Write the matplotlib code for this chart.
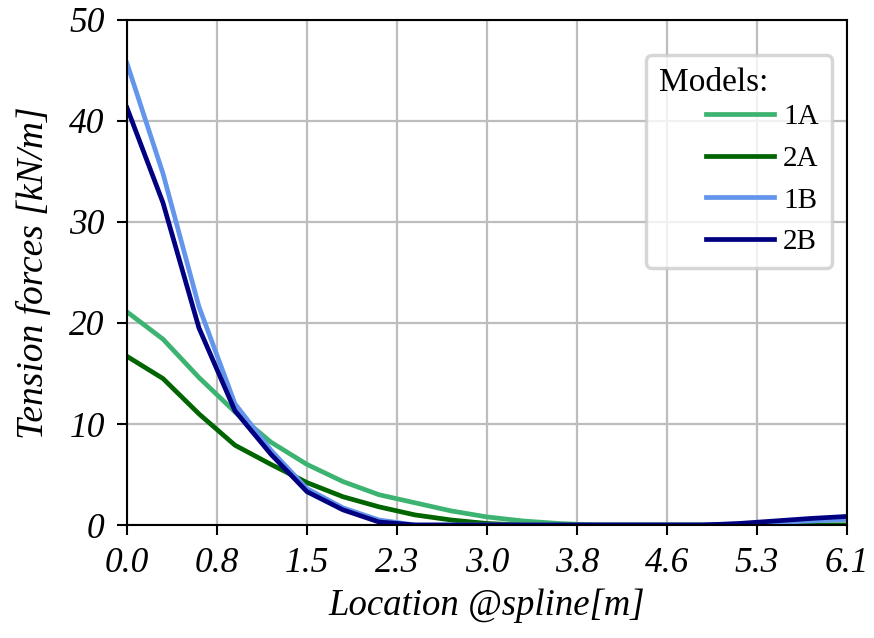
import numpy as np
import matplotlib
matplotlib.use("Agg")
import matplotlib.pyplot as plt

# -*- data
loc_m = [0.0, 0.305, 0.61, 0.915, 1.22, 1.525, 1.83, 2.135, 2.44, 2.745, 3.05,
         3.355, 3.66, 3.965, 4.27, 4.575, 4.88, 5.185, 5.49, 5.795, 6.1]
t_1A = [21.1, 18.4, 14.6, 11.2, 8.2, 6.0, 4.3, 3.0, 2.2, 1.4, 0.8,
        0.4, 0.15, 0.0, 0.0, 0.0, 0.0, 0.0, 0.0, 0.0, 0.0]
t_2A = [16.7, 14.5, 11.0, 7.9, 6.0, 4.2, 2.8, 1.8, 1.0, 0.5, 0.15,
        0.0, 0.0, 0.0, 0.0, 0.0, 0.0, 0.0, 0.0, 0.0, 0.0]
t_1B = [45.7, 34.8, 21.6, 12.0, 7.4, 3.6, 1.7, 0.5, 0.0, 0.0, 0.0,
        0.0, 0.0, 0.0, 0.0, 0.0, 0.0, 0.1, 0.25, 0.4, 0.55]
t_2B = [41.3, 31.9, 19.5, 11.3, 7.0, 3.3, 1.5, 0.3, 0.0, 0.0, 0.0,
        0.0, 0.0, 0.0, 0.0, 0.0, 0.0, 0.15, 0.4, 0.65, 0.85]
models = ["1A", "2A", "1B", "2B"]
colors = ["mediumseagreen", "darkgreen", "cornflowerblue", "navy"]
xticks = [0.0, 0.7625, 1.525, 2.2875, 3.05, 3.8125, 4.575, 5.3375, 6.1]
yticks = [0, 10, 20, 30, 40, 50]

plt.rcParams["font.family"] = ["Liberation Serif", "DejaVu Serif"]

fig = plt.figure(figsize=(8.74, 6.38), dpi=100)
ax = fig.add_axes([0.1453, 0.1771, 0.8237, 0.7916])

for lab, col, y in zip(models, colors, [t_1A, t_2A, t_1B, t_2B]):
    ax.plot(loc_m, y, color=col, lw=3.4, label=lab)

ax.set_xlim(0, 6.1)
ax.set_ylim(0, 50)
ax.set_xticks(xticks)
ax.set_xticklabels([f"{v:.1f}" for v in xticks])
ax.set_yticks(yticks)
ax.tick_params(labelsize=25.5, length=7, width=1.5, pad=9)
for lbl in ax.get_xticklabels() + ax.get_yticklabels():
    lbl.set_fontstyle("italic")
for sp in ax.spines.values():
    sp.set_linewidth(1.5)
ax.grid(color="#bdbdbd", lw=1.6)
ax.set_axisbelow(True)

ax.set_xlabel("Location @spline[m]", fontsize=26.5, style="italic", labelpad=6)
ax.set_ylabel("Tension forces [kN/m]", fontsize=27, style="italic", labelpad=13)

leg = ax.legend(title="Models:" + "\u2002" * 3, fontsize=21, title_fontsize=24,
                loc="upper right", bbox_to_anchor=(0.979, 0.931),
                borderaxespad=0, alignment="right", handlelength=2.35,
                handletextpad=0.3, labelspacing=0.52, framealpha=0.8,
                borderpad=0.45)
leg._legend_box.sep = 4  # tighter gap under the title
leg.get_frame().set_edgecolor("#cccccc")
leg.get_frame().set_linewidth(2.5)

fig.savefig("out.png", dpi=100)
